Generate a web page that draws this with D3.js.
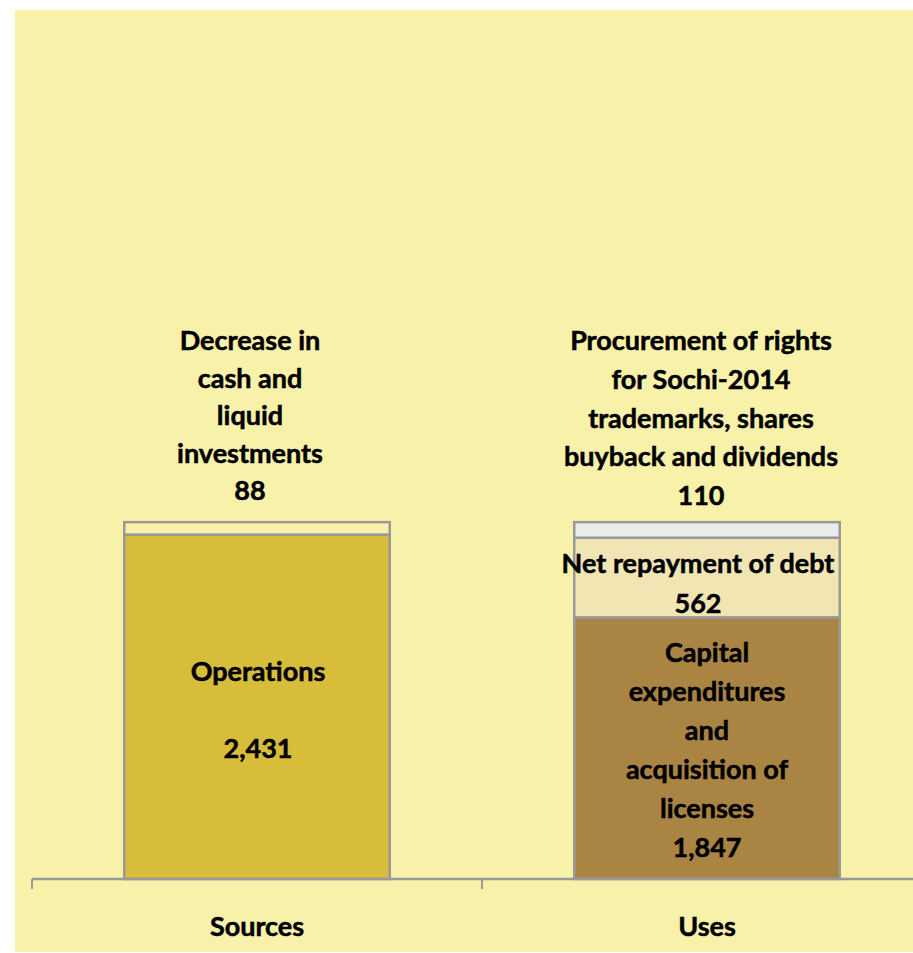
<!DOCTYPE html>
<html><head><meta charset="utf-8">
<script src="https://cdn.jsdelivr.net/npm/d3@7"></script>
<style>
html,body{margin:0;padding:0;background:#fff;}
svg{display:block;}
text{font-family:Lato,"Open Sans",sans-serif;font-weight:700;fill:#000;stroke:#000;stroke-width:0.5px;}
</style></head>
<body>
<svg id="c" width="913" height="953"></svg>
<script>
const categories = ["Sources", "Uses"];
const sourcesNames = ["Operations", "Decrease in cash and liquid investments"];
const sourcesValues = [2431, 88];
const usesNames = ["Capital expenditures and acquisition of licenses", "Net repayment of debt", "Procurement of rights for Sochi-2014 trademarks, shares buyback and dividends"];
const usesValues = [1847, 562, 110];
const sourcesLabelLines = [["Operations", "", "2,431"], ["Decrease in", "cash and", "liquid", "investments", "88"]];
const usesLabelLines = [["Capital", "expenditures", "and", "acquisition of", "licenses", "1,847"], ["Net repayment of debt", "562"], ["Procurement of rights", "for Sochi-2014", "trademarks, shares", "buyback and dividends", "110"]];
const yMax = 6000;

const colors = {
  "Sources": ["#d8bd3a", "#f7f1a9"],
  "Uses": ["#a98443", "#f1e6b3", "#ebebeb"]
};

const FS = "27px";
const BASE = 10;
const svg = d3.select("#c");
svg.append("rect").attr("x",15).attr("y",10).attr("width",898).attr("height",942).attr("fill","#f7f1a9");

const x = d3.scaleBand().domain(categories).range([32, 932]).paddingInner(0).paddingOuter(0);
const y = d3.scaleLinear().domain([0, yMax]).range([879, 29]);
const barW = x.bandwidth() * 0.59;

const groups = [
  {cat:"Sources", values:sourcesValues, lines:sourcesLabelLines},
  {cat:"Uses", values:usesValues, lines:usesLabelLines}
];

const labelStyle = {
  "Sources": [{mode:"inside", dx:1, dy:3, lh:38.5}, {mode:"above", dx:-7, lh:37.5, off:32}],
  "Uses": [{mode:"inside", dx:0, dy:1, lh:39}, {mode:"inside", dx:-9, dy:5, lh:40}, {mode:"above", dx:-6, lh:38.8, off:27}]
};

groups.forEach(g => {
  let cum = 0;
  const cx = x(g.cat) + x.bandwidth()/2;
  g.values.forEach((v, i) => {
    const y0 = y(cum), y1 = y(cum + v);
    svg.append("rect")
      .attr("x", cx - barW/2).attr("y", y1)
      .attr("width", barW).attr("height", y0 - y1)
      .attr("fill", colors[g.cat][i])
      .attr("stroke", "#999999").attr("stroke-width", 2.5);
    cum += v;
  });
});

const axisG = svg.append("g").attr("transform", "translate(0,879)");
axisG.append("line").attr("x1", 32).attr("x2", 913).attr("stroke", "#999999").attr("stroke-width", 2.5);
[32, ...categories.map(c => x(c) + x.bandwidth())].forEach(t => {
  axisG.append("line").attr("x1", t).attr("x2", t).attr("y1", 0).attr("y2", 10).attr("stroke", "#999999").attr("stroke-width", 2);
});
categories.forEach(c => {
  svg.append("text").attr("x", x(c) + x.bandwidth()/2).attr("y", 936)
    .attr("text-anchor","middle").style("font-size",FS).text(c);
});

groups.forEach(g => {
  let cum = 0;
  const cx = x(g.cat) + x.bandwidth()/2;
  g.values.forEach((v, i) => {
    const st = labelStyle[g.cat][i];
    const lines = g.lines[i];
    const y0 = y(cum), y1 = y(cum + v);
    let centerFirst;
    if (st.mode === "inside") {
      const mid = (y0 + y1)/2 + st.dy;
      centerFirst = mid - (lines.length - 1) * st.lh / 2;
    } else {
      centerFirst = y1 - st.off - (lines.length - 1) * st.lh;
    }
    const t = svg.append("text").attr("text-anchor","middle").style("font-size",FS);
    lines.forEach((ln, k) => {
      t.append("tspan").attr("x", cx + st.dx).attr("y", centerFirst + k * st.lh + BASE).text(ln);
    });
    cum += v;
  });
});
</script>
</body></html>
